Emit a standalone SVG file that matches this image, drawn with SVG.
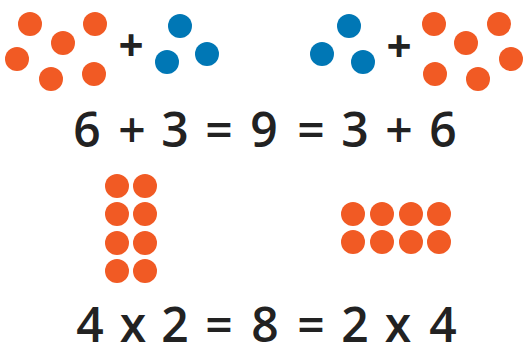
<svg xmlns="http://www.w3.org/2000/svg" width="524" height="343" viewBox="0 0 524 343">
<style>
.o{fill:#F15A24}
.b{fill:#0077B5}
.t{font-family:"Open Sans","DejaVu Sans",sans-serif;font-weight:600;font-size:48px;fill:#222222;text-anchor:middle}
.p{font-family:"Open Sans","DejaVu Sans",sans-serif;font-weight:700;font-size:44px;fill:#222222;text-anchor:middle}
</style>
<rect width="524" height="343" fill="#ffffff"/>
<g id="left-sum">
<circle class="o" cx="30" cy="24" r="12"/>
<circle class="o" cx="95" cy="24" r="12"/>
<circle class="o" cx="63" cy="43" r="12"/>
<circle class="o" cx="17" cy="59" r="12"/>
<circle class="o" cx="51" cy="79" r="12"/>
<circle class="o" cx="94" cy="74" r="12"/>
<text class="p" x="131" y="61">+</text>
<circle class="b" cx="180" cy="26" r="12"/>
<circle class="b" cx="167" cy="62" r="12"/>
<circle class="b" cx="207" cy="54" r="12"/>
</g>
<g id="right-sum">
<circle class="b" cx="349" cy="26" r="12"/>
<circle class="b" cx="322" cy="54" r="12"/>
<circle class="b" cx="363" cy="62" r="12"/>
<text class="p" x="399" y="62">+</text>
<circle class="o" cx="434" cy="24" r="12"/>
<circle class="o" cx="499" cy="24" r="12"/>
<circle class="o" cx="466" cy="43" r="12"/>
<circle class="o" cx="511" cy="59" r="12"/>
<circle class="o" cx="435" cy="74" r="12"/>
<circle class="o" cx="478" cy="79" r="12"/>
</g>
<g id="addition-equation">
<text class="t" x="87" y="147">6</text>
<text class="t" x="132" y="147">+</text>
<text class="t" x="175" y="147">3</text>
<text class="t" x="219" y="147">=</text>
<text class="t" x="264" y="147">9</text>
<text class="t" x="311" y="147">=</text>
<text class="t" x="355" y="147">3</text>
<text class="t" x="399" y="147">+</text>
<text class="t" x="443" y="147">6</text>
</g>
<g id="column-array">
<circle class="o" cx="117" cy="186" r="12"/>
<circle class="o" cx="145" cy="186" r="12"/>
<circle class="o" cx="117" cy="214" r="12"/>
<circle class="o" cx="145" cy="214" r="12"/>
<circle class="o" cx="117" cy="243" r="12"/>
<circle class="o" cx="145" cy="243" r="12"/>
<circle class="o" cx="117" cy="271" r="12"/>
<circle class="o" cx="145" cy="271" r="12"/>
</g>
<g id="row-array">
<circle class="o" cx="353" cy="214" r="12"/>
<circle class="o" cx="382" cy="214" r="12"/>
<circle class="o" cx="411" cy="214" r="12"/>
<circle class="o" cx="439" cy="214" r="12"/>
<circle class="o" cx="353" cy="242" r="12"/>
<circle class="o" cx="382" cy="242" r="12"/>
<circle class="o" cx="411" cy="242" r="12"/>
<circle class="o" cx="439" cy="242" r="12"/>
</g>
<g id="multiplication-equation">
<text class="t" x="90" y="342">4</text>
<text class="t" x="133" y="342">x</text>
<text class="t" x="175" y="342">2</text>
<text class="t" x="219" y="342">=</text>
<text class="t" x="265" y="342">8</text>
<text class="t" x="311" y="342">=</text>
<text class="t" x="355" y="342">2</text>
<text class="t" x="398" y="342">x</text>
<text class="t" x="443" y="342">4</text>
</g>
</svg>
